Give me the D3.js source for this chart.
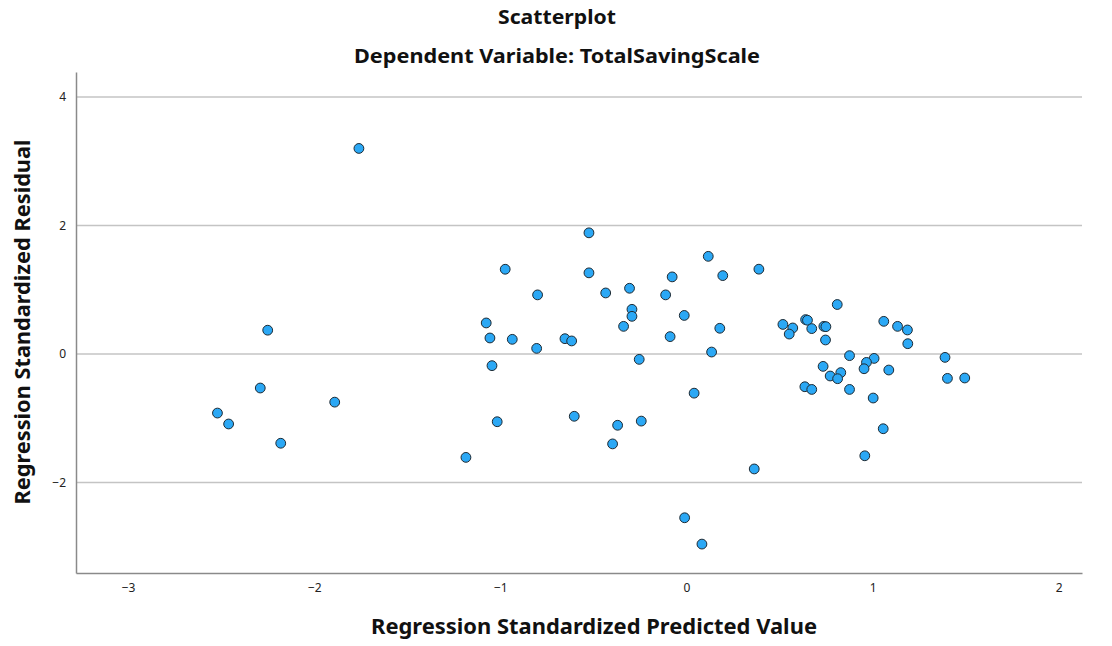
<!DOCTYPE html>
<html><head><meta charset="utf-8">
<script src="https://cdn.jsdelivr.net/npm/d3@7"></script>
<style>body{margin:0;background:#fff;} svg{display:block;font-family:"Noto Sans",sans-serif;}</style>
</head><body>
<svg id="chart" width="1112" height="646"></svg>
<script>
const title = "Scatterplot";
const subtitle = "Dependent Variable: TotalSavingScale";
const xLabel = "Regression Standardized Predicted Value";
const yLabel = "Regression Standardized Residual";
const xTicks = [-3, -2, -1, 0, 1, 2];
const yTicks = [-2, 0, 2, 4];
const predicted = [
  -1.76, -2.25, -2.29, -1.89, -2.52, -2.46, -2.18,
  -0.524, -0.974, -0.524, -0.80, -0.434, -0.306, -0.293, -0.293, -0.338,
  -1.076, -1.056, -0.936, -0.805, -0.653, -0.617, -1.045, -0.254,
  -0.112, -0.077, -0.012, -0.088, 0.117, 0.195, 0.389, 0.179, 0.135, 0.041,
  -1.017, -0.603, -0.37, -0.243, -0.397, -1.185, 0.364, -0.01, 0.083,
  0.81, 0.518, 0.571, 0.552, 0.640, 0.650, 0.673, 0.738, 0.749, 0.747,
  1.06, 1.134, 1.187, 1.189, 0.876, 1.008, 0.967, 0.954, 1.087,
  1.389, 1.402, 1.495, 0.734, 0.829, 0.772, 0.812, 0.636, 0.673, 0.876,
  1.003, 1.057, 0.958
];
const residual = [
  3.20, 0.37, -0.53, -0.75, -0.92, -1.09, -1.39,
  1.886, 1.319, 1.263, 0.92, 0.95, 1.023, 0.695, 0.586, 0.43,
  0.483, 0.249, 0.228, 0.087, 0.238, 0.203, -0.182, -0.084,
  0.92, 1.20, 0.60, 0.27, 1.52, 1.22, 1.32, 0.40, 0.03, -0.61,
  -1.055, -0.97, -1.11, -1.045, -1.40, -1.61, -1.79, -2.55, -2.96,
  0.77, 0.46, 0.405, 0.31, 0.535, 0.525, 0.395, 0.43, 0.425, 0.218,
  0.508, 0.43, 0.374, 0.16, -0.026, -0.069, -0.131, -0.23, -0.25,
  -0.053, -0.38, -0.374, -0.193, -0.29, -0.343, -0.385, -0.51, -0.552, -0.552,
  -0.686, -1.164, -1.585
];

const svg = d3.select("#chart");
const plotL = 76, plotR = 1082, plotT = 72, plotB = 573;
const x = d3.scaleLinear().domain([-3.28, 2.125]).range([plotL, plotR]);
const y = d3.scaleLinear().domain([-3.41, 4.39]).range([plotB, plotT]);

// gridlines
svg.append("g").selectAll("line").data(yTicks).join("line")
  .attr("x1", plotL).attr("x2", plotR)
  .attr("y1", d => y(d)).attr("y2", d => y(d))
  .attr("stroke", "#c4c4c4").attr("stroke-width", 1.5);

// axes
const xAxis = svg.append("g").attr("transform", `translate(0,${plotB})`)
  .call(d3.axisBottom(x).tickValues(xTicks).tickSize(0).tickPadding(10).tickFormat(d3.format("d")));
xAxis.select(".domain").attr("stroke", "#8a8a8a").attr("stroke-width", 1.5);
xAxis.selectAll("text").attr("font-size", 12).attr("fill", "#222").attr("font-family", "Noto Sans");

const yAxis = svg.append("g").attr("transform", `translate(${plotL},0)`)
  .call(d3.axisLeft(y).tickValues(yTicks).tickSize(0).tickPadding(10).tickFormat(d3.format("d")));
yAxis.select(".domain").attr("stroke", "#8a8a8a").attr("stroke-width", 1.5);
yAxis.selectAll("text").attr("font-size", 12).attr("fill", "#222").attr("font-family", "Noto Sans");

// points
const pts = predicted.map((v, i) => ({x: v, y: residual[i]}));
svg.append("g").selectAll("circle").data(pts).join("circle")
  .attr("cx", d => x(d.x)).attr("cy", d => y(d.y)).attr("r", 4.9)
  .attr("fill", "#2ba8f5").attr("stroke", "#1e2a33").attr("stroke-width", 1);

// titles
svg.append("text").attr("x", 557).attr("y", 24).attr("text-anchor", "middle")
  .attr("font-size", 19).attr("font-weight", "bold").attr("fill", "#111")
  .attr("textLength", 118).attr("lengthAdjust", "spacingAndGlyphs").text(title);
svg.append("text").attr("x", 557).attr("y", 63).attr("text-anchor", "middle")
  .attr("font-size", 19).attr("font-weight", "bold").attr("fill", "#111")
  .attr("textLength", 406).attr("lengthAdjust", "spacingAndGlyphs").text(subtitle);
svg.append("text").attr("x", 594).attr("y", 634).attr("text-anchor", "middle")
  .attr("font-size", 21).attr("font-weight", "bold").attr("fill", "#111")
  .attr("textLength", 446).attr("lengthAdjust", "spacingAndGlyphs").text(xLabel);
svg.append("text").attr("transform", "translate(30,322) rotate(-90)").attr("text-anchor", "middle")
  .attr("font-size", 21).attr("font-weight", "bold").attr("fill", "#111")
  .attr("textLength", 365).attr("lengthAdjust", "spacingAndGlyphs").text(yLabel);
</script>
</body></html>
